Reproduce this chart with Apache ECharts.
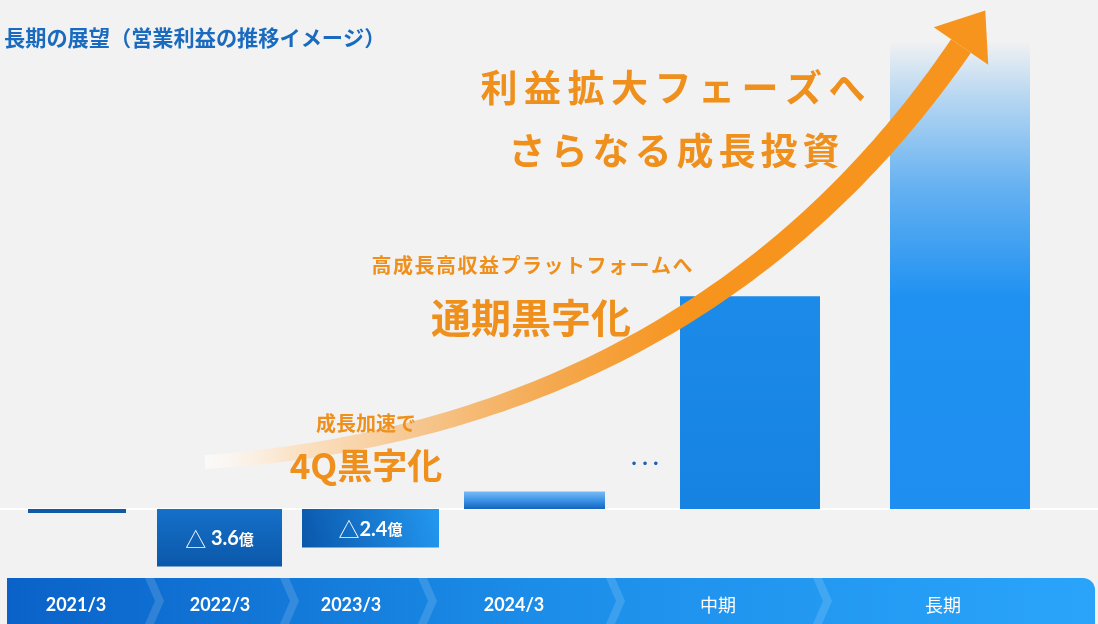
<!DOCTYPE html>
<html><head><meta charset="utf-8">
<script src="https://cdn.jsdelivr.net/npm/echarts@6/dist/echarts.min.js"></script>
<style>html,body{margin:0;padding:0;background:#f2f2f2;}#c{width:1098px;height:624px;}</style>
</head><body><div id="c"></div>
<script>
// ---- data (operating profit, 億円) ----
const categories = ['2021/3', '2022/3', '2023/3', '2024/3', '中期', '長期'];
const profit = [-0.25, -3.6, -2.4, 1.1, 13.3, 29.3];
const barLabels = ['', '△ 3.6億', '△2.4億', '', '', ''];
const yMin = -4, yMax = 30;
const titleText = '長期の展望（営業利益の推移イメージ）';

// ---- layout ----
const GRID_TOP = 29, GRID_H = 544;
const barBoxes = [[28, 98], [157, 125], [302, 137], [464, 141], [680, 140], [890, 140]];
const bandCenters = [76, 220, 351, 514, 718, 943];
const chevronXs = [145, 280, 418, 606, 813];
const ORANGE = '#ef8f1c';
const JP = '"Noto Sans CJK JP", "Noto Sans", sans-serif';

const G = echarts.graphic;
const barColors = [
  '#0d5aa7',
  new G.LinearGradient(0, 0, 0, 1, [{offset: 0, color: '#1570c8'}, {offset: 1, color: '#0b58aa'}]),
  new G.LinearGradient(0, 1, 1, 0, [{offset: 0, color: '#0a57ab'}, {offset: 1, color: '#2398f0'}]),
  new G.LinearGradient(0, 0, 0, 1, [{offset: 0, color: '#78bcf6'}, {offset: 0.5, color: '#3d93e6'}, {offset: 1, color: '#1564bf'}]),
  new G.LinearGradient(0, 0, 0, 1, [{offset: 0, color: '#1c8ae8'}, {offset: 1, color: '#1683e2'}]),
  new G.LinearGradient(0, 0, 0, 1, [
    {offset: 0, color: 'rgba(31,145,241,0)'},
    {offset: 0.12, color: 'rgba(31,145,241,0.28)'},
    {offset: 0.32, color: 'rgba(31,145,241,0.68)'},
    {offset: 0.55, color: 'rgba(31,145,241,1)'},
    {offset: 1, color: '#1e8ff0'}])
];

const grids = [], xAxes = [], yAxes = [], series = [];
categories.forEach((c, i) => {
  grids.push({left: barBoxes[i][0], width: barBoxes[i][1], top: GRID_TOP, height: GRID_H});
  xAxes.push({type: 'category', gridIndex: i, data: [c], show: false});
  yAxes.push({type: 'value', gridIndex: i, min: yMin, max: yMax, show: false});
  series.push({
    type: 'bar', xAxisIndex: i, yAxisIndex: i, data: [profit[i]], barWidth: '100%',
    itemStyle: {color: barColors[i]},
    label: {
      show: !!barLabels[i], position: 'inside', offset: [0, 1],
      formatter: () => barLabels[i].replace(/^(△\s?)([\d.]+)(億)$/, '{t|$1}{n|$2}{u|$3}'),
      rich: {
        t: {color: '#fff', fontSize: 21, fontFamily: JP},
        n: {color: '#fff', fontSize: 20, fontWeight: 'bold', fontFamily: 'Lato'},
        u: {color: '#fff', fontSize: 15, fontWeight: 'bold', fontFamily: JP}
      }
    }
  });
});
// full-width grid for the zero baseline
grids.push({left: 0, right: 0, top: GRID_TOP, height: GRID_H});
xAxes.push({type: 'category', gridIndex: 6, data: [''], axisLine: {show: true, onZero: true, lineStyle: {color: '#ffffff', width: 2}}, axisTick: {show: false}, axisLabel: {show: false}});
yAxes.push({type: 'value', gridIndex: 6, min: yMin, max: yMax, show: false});

// ---- graphic decorations ----
const elements = [];
// title
elements.push({type: 'text', x: 4, y: 38, z: 120, style: {text: titleText, fill: '#1a6bbf', font: 'bold 21.2px ' + JP, align: 'left', verticalAlign: 'middle'}});

// bottom band
elements.push({type: 'rect', z: 50, shape: {x: 7, y: 578, width: 1088, height: 46, r: [0, 12, 0, 0]},
  style: {fill: new G.LinearGradient(0, 0, 1, 0, [{offset: 0, color: '#0a62c8'}, {offset: 0.5, color: '#1c8ee9'}, {offset: 1, color: '#2aa4fb'}])}});
chevronXs.forEach(x => {
  elements.push({type: 'polygon', z: 51, shape: {points: [[x, 578], [x + 9, 578], [x + 19, 601], [x + 9, 624], [x, 624], [x + 10, 601]]},
    style: {fill: 'rgba(255,255,255,0.14)'}});
});
categories.forEach((c, i) => {
  const isYear = /\d/.test(c);
  elements.push({type: 'text', z: 52, x: bandCenters[i], y: 605,
    style: {text: c, fill: '#fff', font: (isYear ? 'bold 18px Lato' : '18px ' + JP), align: 'center', verticalAlign: 'middle'}});
});

// ellipsis dots
elements.push({type: 'text', z: 60, x: 645, y: 465, style: {text: '• • •', fill: '#1d5fae', font: '12px "DejaVu Sans"', align: 'center', verticalAlign: 'middle'}});

// curved arrow
(function () {
  const P0 = [205, 462], P1 = [535, 440], P2 = [790, 296], P3 = [961, 46];
  const pt = t => { const u = 1 - t; return [0, 1].map(k => u*u*u*P0[k] + 3*u*u*t*P1[k] + 3*u*t*t*P2[k] + t*t*t*P3[k]); };
  const dv = t => { const u = 1 - t; return [0, 1].map(k => 3*u*u*(P1[k]-P0[k]) + 6*u*t*(P2[k]-P1[k]) + 3*t*t*(P3[k]-P2[k])); };
  const L = [], R = [], N = 90;
  for (let i = 0; i <= N; i++) {
    const t = i / N, p = pt(t), d = dv(t), len = Math.hypot(d[0], d[1]);
    const nx = -d[1] / len, ny = d[0] / len, hw = 7 + 5 * t;
    L.push([p[0] + nx * hw, p[1] + ny * hw]);
    R.push([p[0] - nx * hw, p[1] - ny * hw]);
  }
  elements.push({type: 'polygon', z: 100, shape: {points: L.concat(R.reverse())},
    style: {fill: new G.LinearGradient(205, 0, 690, 0, [
      {offset: 0, color: 'rgba(255,255,255,0.6)'},
      {offset: 0.18, color: 'rgba(251,226,196,0.95)'},
      {offset: 0.45, color: '#f6c58c'},
      {offset: 0.7, color: '#f4aa52'},
      {offset: 1, color: '#f7941d'}], true)}});
  const d = dv(1), len = Math.hypot(d[0], d[1]), ux = d[0] / len, uy = d[1] / len, nx = -uy, ny = ux;
  elements.push({type: 'polygon', z: 101, shape: {points: [
    [P3[0] + nx * 33, P3[1] + ny * 33], [P3[0] + ux * 43, P3[1] + uy * 43], [P3[0] - nx * 33, P3[1] - ny * 33]]},
    style: {fill: '#f7941d'}});
})();

// orange annotation texts
function spaced(str, cx, cy, fs, pitch) {
  const chars = Array.from(str), total = (chars.length - 1) * pitch;
  chars.forEach((ch, k) => {
    elements.push({type: 'text', z: 110, x: cx - total / 2 + k * pitch, y: cy,
      style: {text: ch, fill: ORANGE, font: 'bold ' + fs + 'px ' + JP, align: 'center', verticalAlign: 'middle'}});
  });
}
spaced('利益拡大フェーズへ', 673, 88, 37, 43.5);
spaced('さらなる成長投資', 674, 151, 37, 42);
spaced('高成長高収益プラットフォームへ', 532, 265, 20, 21.5);
elements.push({type: 'text', z: 110, x: 531, y: 318, style: {text: '通期黒字化', fill: ORANGE, font: 'bold 40px ' + JP, align: 'center', verticalAlign: 'middle'}});
elements.push({type: 'text', z: 110, x: 366, y: 423, style: {text: '成長加速で', fill: ORANGE, font: 'bold 20px ' + JP, align: 'center', verticalAlign: 'middle'}});
elements.push({type: 'text', z: 110, x: 366, y: 466, style: {text: '4Q黒字化', fill: ORANGE, font: 'bold 35px ' + JP, align: 'center', verticalAlign: 'middle'}});

const chart = echarts.init(document.getElementById('c'), null, {renderer: 'canvas'});
chart.setOption({
  backgroundColor: '#f2f2f2',
  animation: false,
  grid: grids, xAxis: xAxes, yAxis: yAxes, series: series,
  graphic: {elements: elements}
});
</script></body></html>
